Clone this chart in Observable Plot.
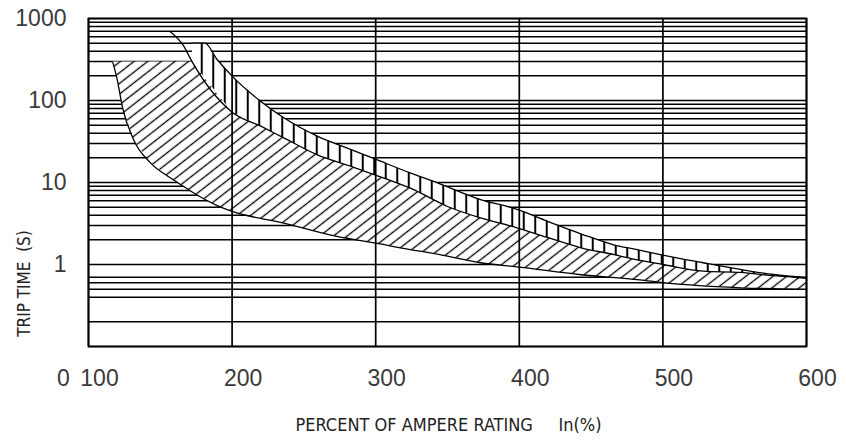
<!DOCTYPE html>
<html><head><meta charset="utf-8">
<script src="https://cdn.jsdelivr.net/npm/d3@7"></script>
<script src="https://cdn.jsdelivr.net/npm/@observablehq/plot@0.6"></script>
<style>html,body{margin:0;padding:0;background:#fff;} svg{display:block} text{white-space:pre}</style>
</head><body><div id="chart"></div>
<script>
// ---- data ----
const xTicks = [100, 200, 300, 400, 500, 600];
const xTickLabels = ["100", "200", "300", "400", "500", "600"];
const originLabel = "0";
const yTicks = [1, 10, 100, 1000];
const yTickLabels = ["1", "10", "100", "1000"];
const gridT = [0.1, 0.2, 0.4, 0.5, 0.6, 0.7,
  1, 2, 3, 4, 5, 6, 7, 8, 9,
  10, 20, 30, 40, 50, 60, 70, 80, 90,
  100, 200, 300, 400, 500, 600, 700, 800, 900, 1000];

// lower boundary of the diagonally hatched band
const lowerX = [117, 120, 123.5, 131.5, 143, 157, 166, 173, 190, 200, 236, 273, 300, 324, 338, 373, 400, 443, 484, 500, 554, 600];
const lowerT = [290, 180, 85, 33, 17.5, 11.4, 9.0, 7.5, 5.2, 4.45, 3.2, 2.2, 1.82, 1.52, 1.39, 1.05, 0.93, 0.75, 0.65, 0.6, 0.52, 0.5];
// middle boundary (top of diagonal band / bottom of vertical band)
const middleX = [157, 166, 172, 200, 220, 236, 259, 282.5, 299, 325, 350, 373, 398.5, 419, 443, 466, 484, 500, 528, 554, 577, 600];
const middleT = [690, 470, 300, 72, 48.6, 35, 21.9, 15.8, 12.5, 8.4, 5.1, 3.7, 2.8, 2.15, 1.6, 1.32, 1.12, 1.0, 0.83, 0.8, 0.73, 0.68];
// upper boundary of the vertically hatched band
const upperX = [172, 181, 189.6, 200, 219.8, 236, 259.3, 282.5, 299, 324, 343, 373, 398.5, 419, 448, 465, 482, 500, 528, 554, 577, 600];
const upperT = [500, 500, 316, 198, 98, 61.5, 36.7, 25.3, 19.5, 13.1, 9.9, 6.2, 4.7, 3.4, 2.2, 1.75, 1.52, 1.3, 1.05, 0.87, 0.755, 0.69];
const diagCapT = 300;   // flat top of diagonal band
const vertStartX = 172; // left edge of vertical band

const xTitle = "PERCENT OF AMPERE RATING";
const xUnit = "In(%)";
const yTitle = "TRIP TIME  (S)";

// ---- build tables ----
const pts = (X, T) => X.map((x, i) => ({x, t: T[i]}));
const lower = pts(lowerX, lowerT);
const middle = pts(middleX, middleT);
const upper = pts(upperX, upperT);
const midRight = middle.filter(d => d.x >= vertStartX);
const diagPoly = [...lower, ...midRight.slice().reverse(), {x: lowerX[0], t: diagCapT}];
const vertPoly = [...midRight, ...upper.slice().reverse()];

const yLab = new Map(yTicks.map((v, i) => [v, yTickLabels[i]]));
const xLab = new Map(xTicks.map((v, i) => [v, xTickLabels[i]]));
const narrow = "'Liberation Sans Narrow', 'DejaVu Sans Condensed', 'Liberation Sans', sans-serif";

const svg = Plot.plot({
  width: 846, height: 441,
  marginLeft: 88, marginRight: 40, marginTop: 18, marginBottom: 95,
  x: {domain: [100, 600]},
  y: {type: "log", domain: [0.1, 1000]},
  style: {fontFamily: "'Liberation Sans', sans-serif", background: "#fff", color: "#000", overflow: "visible"},
  marks: [
    Plot.ruleY(gridT, {stroke: "#000", strokeWidth: 1.5}),
    Plot.line(diagPoly, {x: "x", y: "t", fill: "url(#diag)", stroke: "none", curve: "linear"}),
    Plot.line(vertPoly, {x: "x", y: "t", fill: "url(#vert)", stroke: "none", curve: "linear"}),
    Plot.line(lower, {x: "x", y: "t", stroke: "#000", strokeWidth: 1.3, curve: "monotone-x"}),
    Plot.line(middle, {x: "x", y: "t", stroke: "#000", strokeWidth: 1.3, curve: "monotone-x"}),
    Plot.line(upper, {x: "x", y: "t", stroke: "#000", strokeWidth: 1.3, curve: "monotone-x"}),
    Plot.ruleX(xTicks, {stroke: "#000", strokeWidth: 1.7}),
    Plot.frame({stroke: "#000", strokeWidth: 1.8}),
    Plot.axisY({ticks: yTicks, tickSize: 0, tickPadding: 22, fontSize: 23, fill: "#3a3a3a", label: null, tickFormat: d => yLab.get(d)}),
    Plot.axisX({ticks: xTicks, tickSize: 0, tickPadding: 23, fontSize: 23, fill: "#3a3a3a", dx: 11, label: null, tickFormat: d => xLab.get(d)}),
    Plot.text([originLabel], {frameAnchor: "bottom-left", textAnchor: "middle", lineAnchor: "middle", dx: -25, dy: 32, fontSize: 23, fill: "#3a3a3a"}),
    Plot.text([xTitle], {frameAnchor: "bottom", textAnchor: "start", lineAnchor: "middle", dx: -152, dy: 79, fontSize: 18, fontFamily: narrow, fill: "#222"}),
    Plot.text([xUnit], {frameAnchor: "bottom", textAnchor: "start", lineAnchor: "middle", dx: 111, dy: 79, fontSize: 18, fontFamily: narrow, fill: "#222"}),
    Plot.text([yTitle], {frameAnchor: "left", textAnchor: "middle", lineAnchor: "middle", rotate: -90, dx: -64, dy: 101, fontSize: 17, fontFamily: narrow, fill: "#222"})
  ]
});

const ns = "http://www.w3.org/2000/svg";
const defs = document.createElementNS(ns, "defs");
defs.innerHTML =
  '<pattern id="diag" patternUnits="userSpaceOnUse" width="12" height="8.4" patternTransform="rotate(-38)">' +
  '<rect width="12" height="8.4" fill="#fff"/>' +
  '<line x1="-1" y1="4.2" x2="13" y2="4.2" stroke="#000" stroke-width="1.3"/></pattern>' +
  '<pattern id="vert" patternUnits="userSpaceOnUse" width="11.5" height="10">' +
  '<rect width="11.5" height="10" fill="#fff"/>' +
  '<line x1="5.75" y1="-1" x2="5.75" y2="11" stroke="#000" stroke-width="2"/></pattern>';
svg.insertBefore(defs, svg.firstChild);
document.getElementById("chart").appendChild(svg);
</script></body></html>
